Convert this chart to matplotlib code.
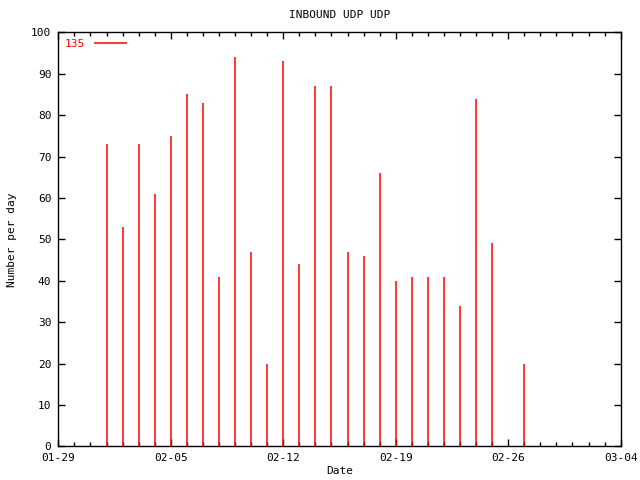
import datetime as dt
import matplotlib
matplotlib.use('Agg')
import matplotlib.pyplot as plt
import matplotlib.dates as mdates

# daily counts
days = ['2008-02-01', '2008-02-02', '2008-02-03', '2008-02-04', '2008-02-05',
        '2008-02-06', '2008-02-07', '2008-02-08', '2008-02-09', '2008-02-10',
        '2008-02-11', '2008-02-12', '2008-02-13', '2008-02-14', '2008-02-15',
        '2008-02-16', '2008-02-17', '2008-02-18', '2008-02-19', '2008-02-20',
        '2008-02-21', '2008-02-22', '2008-02-23', '2008-02-24', '2008-02-25',
        '2008-02-27']
counts = [73, 53, 73, 61, 75, 85, 83, 41, 94, 47,
          20, 93, 44, 87, 87, 47, 46, 66, 40, 41,
          41, 41, 34, 84, 49, 20]
series_label = '135'
tick_days = ['2008-01-29', '2008-02-05', '2008-02-12', '2008-02-19', '2008-02-26', '2008-03-04']

to_date = lambda s: dt.datetime.strptime(s, '%Y-%m-%d')
dates = [to_date(d) for d in days]
ticks = [to_date(d) for d in tick_days]

plt.rcParams['font.family'] = 'DejaVu Sans Mono'
fig = plt.figure(figsize=(6.4, 4.8), dpi=100)
ax = fig.add_axes([0.0911, 0.0702, 0.8787, 0.8625])

ax.vlines(dates, 0, counts, color='red', linewidth=1.1, label=series_label, zorder=3)

ax.set_xlim(ticks[0], ticks[-1])
ax.set_ylim(0, 100)
ax.set_yticks(range(0, 101, 10))
ax.set_xticks(ticks)
ax.xaxis.set_major_formatter(mdates.DateFormatter('%m-%d'))
ax.xaxis.set_minor_locator(mdates.DayLocator())

ax.tick_params(which='both', direction='in', top=True, right=True, labelsize=8, width=1, pad=5)
ax.tick_params(which='major', length=5)
ax.tick_params(which='minor', length=3)
for s in ax.spines.values():
    s.set_linewidth(1)

ax.set_title('INBOUND UDP UDP', fontsize=8, pad=10)
ax.set_xlabel('Date', fontsize=8, labelpad=2)
ax.set_ylabel('Number per day', fontsize=8, labelpad=10)

ax.legend(loc='upper left', frameon=False, markerfirst=False, labelcolor='red',
          fontsize=8, handlelength=3.0, borderaxespad=0.2, bbox_to_anchor=(0.0, 1.0))

fig.savefig('out.png', dpi=100)
